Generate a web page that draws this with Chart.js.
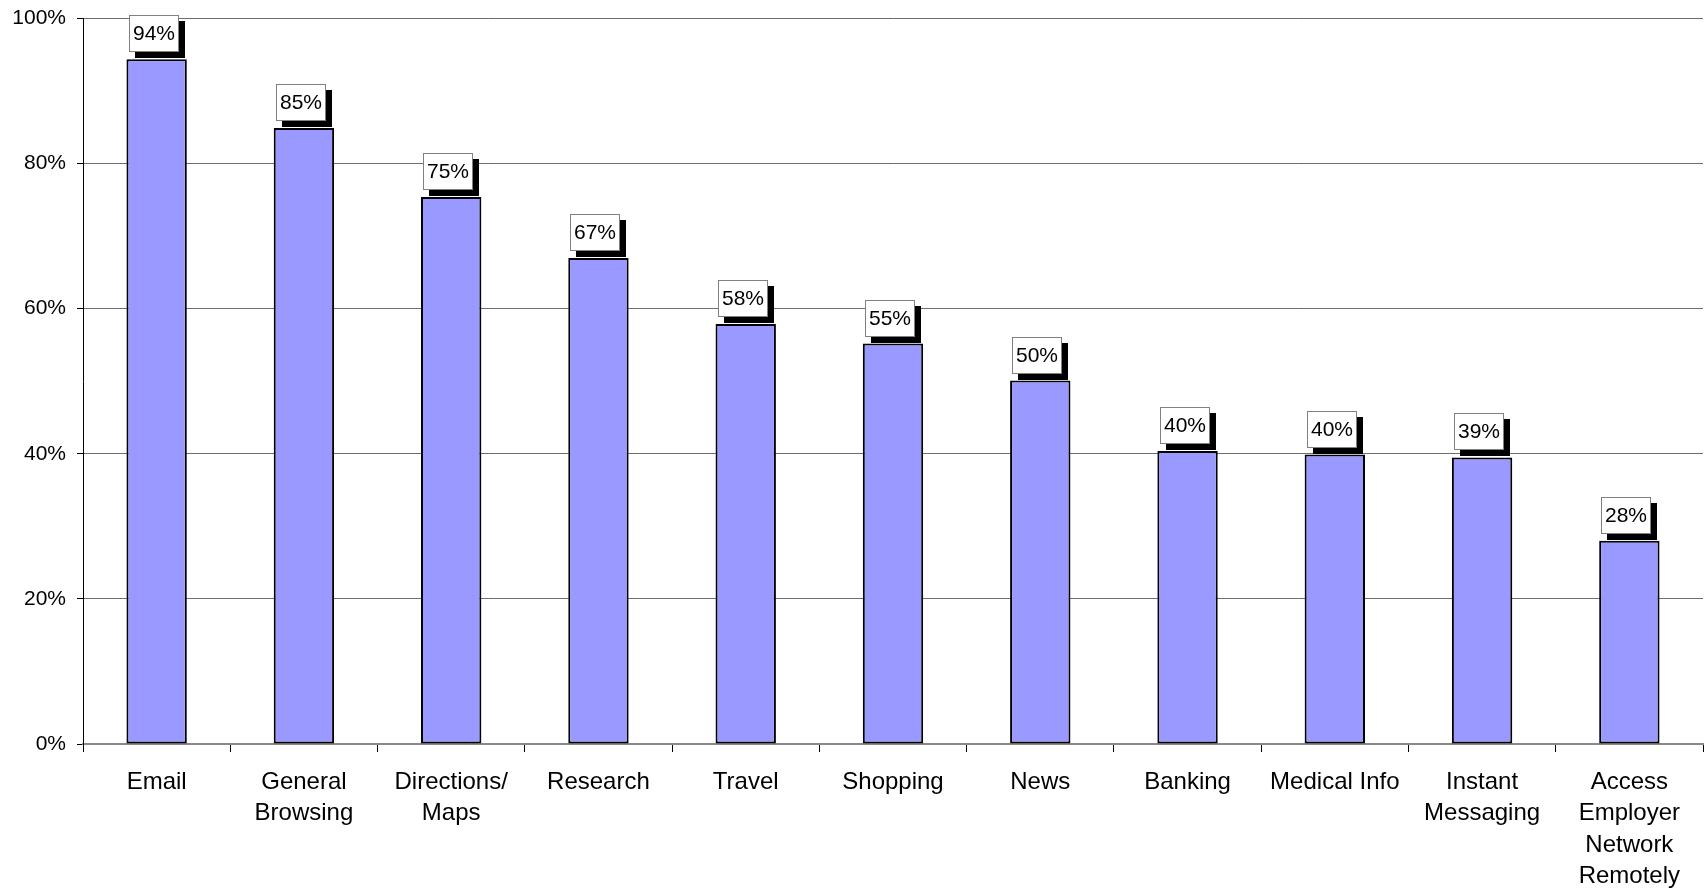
<!DOCTYPE html>
<html>
<head>
<meta charset="utf-8">
<script src="https://cdn.jsdelivr.net/npm/chart.js@4/dist/chart.umd.min.js"></script>
<style>
html,body{margin:0;padding:0;background:#fff;}
#wrap{width:1704px;height:889px;position:relative;}
</style>
</head>
<body>
<div id="wrap"><canvas id="c" width="1704" height="889"></canvas></div>
<script>
const categories = ["Email", ["General","Browsing"], ["Directions/","Maps"], "Research", "Travel", "Shopping", "News", "Banking", "Medical Info", ["Instant","Messaging"], ["Access","Employer","Network","Remotely"]];
const values = [94.4, 84.9, 75.4, 67.0, 57.9, 55.2, 50.1, 40.4, 39.9, 39.5, 28.0];
const valueLabels = ["94%", "85%", "75%", "67%", "58%", "55%", "50%", "40%", "40%", "39%", "28%"];
const yTicks = [0, 20, 40, 60, 80, 100];

const FONT = '"Liberation Sans", Arial, sans-serif';

const boxLabels = {
  id: 'boxLabels',
  afterDatasetsDraw(chart) {
    const ctx = chart.ctx;
    const meta = chart.getDatasetMeta(0);
    ctx.save();
    ctx.font = '21px ' + FONT;
    meta.data.forEach((bar, i) => {
      const t = valueLabels[i];
      const tw = ctx.measureText(t).width;
      const w = Math.round(tw + 8), h = 37, sh = 6;
      const left = Math.round(bar.x - (w + sh) / 2);
      const bottom = Math.round(bar.y - 7);
      const top = bottom - h;
      ctx.fillStyle = '#000';
      ctx.fillRect(left + sh, top + sh, w, h);
      ctx.fillStyle = '#fff';
      ctx.fillRect(left, top, w, h);
      ctx.strokeStyle = '#808080';
      ctx.lineWidth = 1;
      ctx.strokeRect(left + 0.5, top + 0.5, w - 1, h - 1);
      ctx.fillStyle = '#000';
      ctx.textAlign = 'center';
      ctx.textBaseline = 'middle';
      ctx.fillText(t, left + w / 2, top + h / 2 + 1);
    });
    ctx.restore();
  }
};

new Chart(document.getElementById('c'), {
  type: 'bar',
  data: {
    labels: categories,
    datasets: [{
      data: values,
      backgroundColor: '#9999FF',
      borderColor: '#000000',
      borderWidth: 2,
      borderSkipped: false,
      barPercentage: 0.41,
      categoryPercentage: 1.0
    }]
  },
  options: {
    responsive: false,
    animation: false,
    devicePixelRatio: 1,
    layout: { padding: { top: 18.5, right: 1, bottom: 0, left: 0 } },
    plugins: {
      legend: { display: false },
      tooltip: { enabled: false }
    },
    scales: {
      x: {
        offset: true,
        grid: {
          offset: true,
          drawOnChartArea: false,
          drawTicks: true,
          tickLength: 8,
          color: '#000',
          lineWidth: 1
        },
        border: { display: true, color: '#8a8a8a', width: 2 },
        ticks: {
          color: '#000',
          font: { family: FONT, size: 24, lineHeight: 1.31 },
          padding: 14.5,
          maxRotation: 0,
          minRotation: 0,
          autoSkip: false
        },
        afterFit(scale) { scale.height = 145; scale.paddingLeft = 0; scale.paddingRight = 0; }
      },
      y: {
        min: 0,
        max: 100,
        afterBuildTicks(scale) { scale.ticks = yTicks.map(v => ({ value: v })); },
        grid: {
          color: '#6e6e6e',
          lineWidth: 1,
          tickLength: 6,
          tickColor: '#000'
        },
        border: { display: true, color: '#000', width: 1 },
        ticks: {
          color: '#000',
          font: { family: FONT, size: 21 },
          padding: 11,
          callback: v => v + '%'
        },
        afterFit(scale) { scale.width = 83; scale.paddingTop = 0; scale.paddingBottom = 0; }
      }
    }
  },
  plugins: [boxLabels]
});
</script>
</body>
</html>
